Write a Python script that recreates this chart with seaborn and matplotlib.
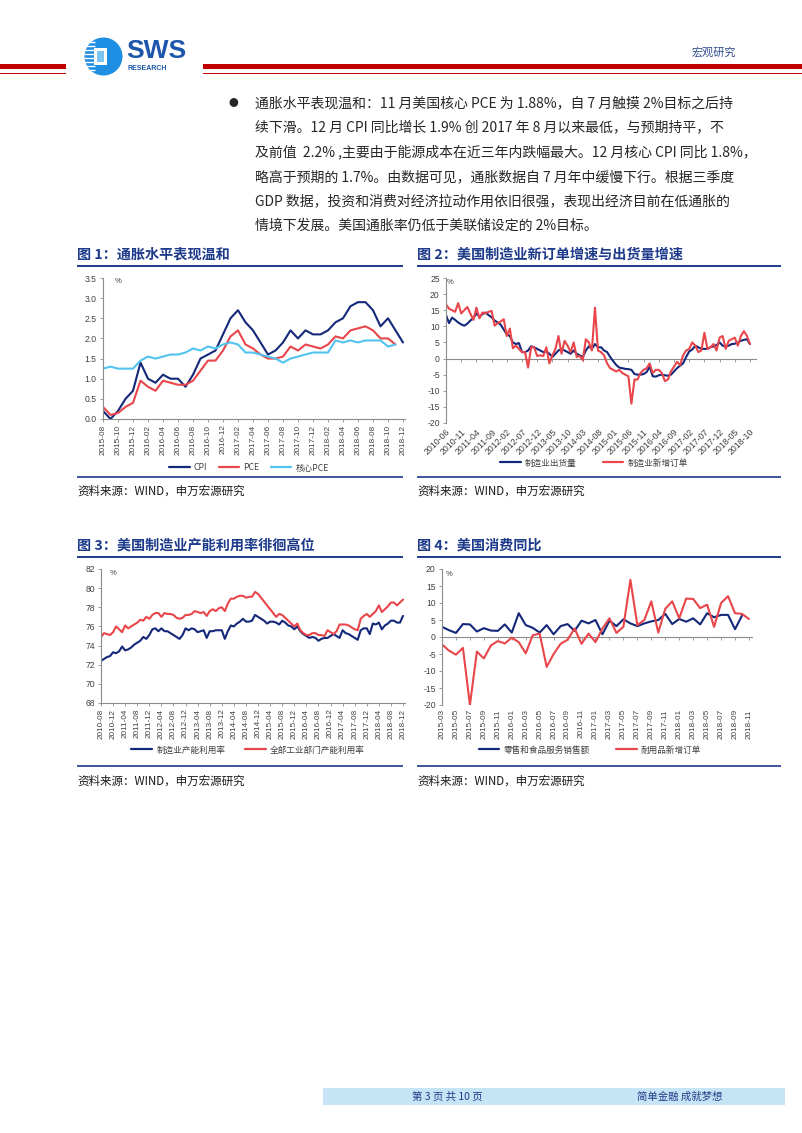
import numpy as np
import pandas as pd
import matplotlib
matplotlib.use("Agg")
import matplotlib.pyplot as plt
import seaborn as sns
from matplotlib.patches import Rectangle, Circle

# ---------------- data ----------------
c1_months = pd.date_range("2015-08-01", "2018-12-01", freq="MS").strftime("%Y-%m").tolist()
c1_cpi = [0.2, 0.0, 0.2, 0.5, 0.7,
          1.4, 1.0, 0.9, 1.1, 1.0, 1.0, 0.8, 1.1, 1.5, 1.6, 1.7, 2.1,
          2.5, 2.7, 2.4, 2.2, 1.9, 1.6, 1.7, 1.9, 2.2, 2.0, 2.2, 2.1,
          2.1, 2.2, 2.4, 2.5, 2.8, 2.9, 2.9, 2.7, 2.3, 2.5, 2.2, 1.9]
c1_pce = [0.3, 0.1, 0.15, 0.3, 0.4,
          0.95, 0.8, 0.7, 0.95, 0.9, 0.85, 0.85, 0.95, 1.2, 1.45, 1.45, 1.7,
          2.05, 2.2, 1.85, 1.75, 1.6, 1.5, 1.5, 1.55, 1.8, 1.7, 1.85, 1.8,
          1.75, 1.85, 2.05, 2.0, 2.2, 2.25, 2.3, 2.2, 2.0, 2.0, 1.85]
c1_core = [1.25, 1.3, 1.25, 1.25, 1.25,
           1.45, 1.55, 1.5, 1.55, 1.6, 1.6, 1.65, 1.75, 1.7, 1.8, 1.75, 1.85,
           1.9, 1.85, 1.65, 1.65, 1.6, 1.55, 1.5, 1.4, 1.5, 1.55, 1.6, 1.65,
           1.65, 1.65, 1.95, 1.9, 1.95, 1.9, 1.95, 1.95, 1.95, 1.8, 1.85]
c1_names = ["CPI", "PCE", "核心PCE"]

c2_months = pd.date_range("2010-06-01", "2018-10-01", freq="MS").strftime("%Y-%m").tolist()
c2_ship = [13.5, 11, 12.7, 12, 11.2, 10.6, 10.2, 10.8, 11.8, 12.5,
           14, 13, 13.8, 14.3, 13.5, 12.8, 11.8, 11.2, 10.5, 9,
           7.5, 7, 5, 4.5, 4.8, 2, 2, 2.5, 3.8, 3.5,
           3, 2.5, 2, 2.2, 1.5, 0.5, 1.5, 2.5, 3, 2.5,
           2, 1.5, 2.5, 1.5, 1, 0.5, 2.5, 3.8, 3, 4.5,
           3.5, 3.5, 2.5, 2, 0.5, -0.8, -2, -2.8, -3, -3.2,
           -3.3, -3.5, -4.8, -5, -5, -4.8, -4.2, -2.5, -5.5, -5.6,
           -5.2, -5, -5.2, -5.3, -5, -4, -3, -2.2, -1.5, 0.5,
           2.2, 2.8, 4, 3.5, 3, 3, 3, 3.5, 3.8, 4.2,
           5, 4, 3.8, 4, 4.5, 4.6, 5, 5.5, 5.8, 6,
           4.5]
c2_orders = [16.8, 15.5, 15, 14.5, 17.2, 14, 15, 16, 14, 12,
             15.8, 12.5, 14.3, 14, 14.5, 14.8, 10.2, 11, 11.5, 12.2,
             7, 9.3, 3.2, 4, 3, 2, 2, -2.8, 3.5, 3.5,
             0.8, 1, 0.8, 3.5, -1.5, 1, 3, 7, 1.5, 5.5,
             4, 2, 5, 0.5, 0.8, -0.5, 6, 5, 2.5, 15.8,
             2.5, 2, 1, -1.5, -3, -3.5, -4, -3.5, -4.5, -5,
             -5.5, -14, -6.5, -6.5, -4.5, -3.5, -3, -1.5, -4.5, -3.5,
             -3.5, -4.5, -7, -6.5, -4, -2.5, -1, -2, 1, 2.5,
             3, 5, 4, 2, 2.5, 8, 3, 3.5, 4.5, 2.5,
             6.5, 7, 3, 5.5, 6, 6.5, 4, 7, 8.5, 7,
             4.5]
c2_names = ["制造业出货量", "制造业新增订单"]

c3_months = pd.date_range("2010-08-01", "2018-12-01", freq="MS").strftime("%Y-%m").tolist()
c3_mfg = [72.4, 72.6, 72.8, 72.9, 73.3,
          73.2, 73.4, 73.9, 73.5, 73.6, 73.8, 74.1, 74.3, 74.5, 74.9, 74.7, 75.1,
          75.7, 75.8, 75.5, 75.8, 75.5, 75.5, 75.3, 75.1, 74.9, 74.7, 75.1, 75.8,
          75.6, 75.8, 75.7, 75.4, 75.5, 75.6, 74.8, 75.5, 75.5, 75.6, 75.6, 75.6,
          74.7, 75.5, 76.1, 76.0, 76.3, 76.5, 76.8, 76.5, 76.5, 76.6, 77.2, 77.0,
          76.8, 76.6, 76.3, 76.5, 76.5, 76.4, 76.2, 76.6, 76.4, 76.1, 76.0, 75.7,
          76.0, 75.5, 75.2, 75.0, 74.8, 74.9, 74.8, 74.5, 74.7, 74.8, 74.8, 75.0,
          75.2, 75.0, 74.8, 75.6, 75.3, 75.2, 75.0, 74.8, 74.6, 75.6, 75.8, 75.8,
          75.2, 76.3, 76.2, 76.4, 75.7, 76.1, 76.3, 76.6, 76.6, 76.4, 76.4, 77.1]
c3_total = [74.9, 75.3, 75.2, 75.1, 75.4,
            76.0, 75.7, 75.4, 76.1, 75.8, 76.0, 76.2, 76.4, 76.7, 76.6, 77.0, 76.8,
            77.2, 77.4, 77.4, 77.0, 77.4, 77.3, 77.3, 77.2, 76.9, 76.8, 76.9, 77.2,
            77.2, 77.3, 77.6, 77.5, 77.4, 77.5, 77.1, 77.6, 77.8, 77.6, 77.9, 78.0,
            77.6, 78.4, 78.9, 78.9, 79.1, 79.2, 79.2, 79.0, 79.1, 79.1, 79.6, 79.4,
            79.0, 78.6, 78.2, 77.8, 77.4, 77.0, 77.3, 77.2, 76.9, 76.6, 76.3, 76.0,
            76.3, 75.6, 75.3, 75.1, 75.1, 75.3, 75.3, 75.1, 75.1, 75.0, 75.6, 75.4,
            75.2, 75.5, 76.2, 76.2, 76.2, 76.1, 75.9, 75.7, 75.6, 76.8, 77.1, 77.3,
            77.0, 77.3, 77.6, 78.2, 77.5, 77.8, 78.1, 78.5, 78.5, 78.2, 78.5, 78.8]
c3_names = ["制造业产能利用率", "全部工业部门产能利用率"]

c4_months = pd.date_range("2015-03-01", "2018-11-01", freq="MS").strftime("%Y-%m").tolist()
c4_retail = [3.0, 2.0, 1.2, 3.8, 3.7, 1.6, 2.6, 1.9, 1.8, 3.7,
             1.3, 7.0, 3.5, 2.7, 1.3, 3.5, 0.8, 3.2, 3.8, 1.8, 4.8, 4.0,
             5.0, 0.8, 4.8, 3.2, 5.2, 4.0, 3.2, 4.0, 4.6, 5.0, 6.8, 3.8,
             5.3, 4.5, 5.5, 3.7, 7.0, 5.8, 6.5, 6.5, 2.3, 6.3]
c4_durable = [-2.2, -4.0, -5.2, -3.2, -20.0, -4.3, -6.3, -2.5, -1.2, -1.9,
              -0.2, -1.5, -4.8, 0.5, 1.0, -8.8, -5.0, -2.0, -0.8, 2.5,
              -2.0, 1.0, -1.5, 2.5, 5.5, 1.2, 3.0, 16.8, 3.5, 5.0,
              10.5, 1.3, 8.3, 10.5, 5.5, 11.3, 11.2, 8.5, 9.5, 3.0,
              10.0, 12.0, 7.0, 6.8, 5.3]
c4_names = ["零售和食品服务销售额", "耐用品新增订单"]

# ---------------- style ----------------
sns.set_theme(style="ticks")
plt.rcParams["font.family"] = ["Noto Sans CJK SC", "DejaVu Sans"]
plt.rcParams["axes.unicode_minus"] = False

NAVY = "#1d3a8a"
GREY = "#8c8c8c"
TXT = "#404040"
LAT = ["Liberation Sans", "DejaVu Sans"]

W, H = 802, 1133
fig = plt.figure(figsize=(W / 100, H / 100), dpi=100)
fig.patch.set_facecolor("white")
bg = fig.add_axes([0, 0, 1, 1], zorder=-5)
bg.set_xlim(0, W)
bg.set_ylim(H, 0)
bg.axis("off")


def px_axes(x0, y_top, x1, y_bot):
    ax = fig.add_axes([x0 / W, 1 - y_bot / H, (x1 - x0) / W, (y_bot - y_top) / H])
    ax.patch.set_alpha(0)
    return ax


def make_long(names, series):
    rows = []
    for name, vals in zip(names, series):
        for i, v in enumerate(vals):
            rows.append((i, v, name))
    return pd.DataFrame(rows, columns=["idx", "val", "series"])


def draw_chart(ax, df, names, colors, xlim, ylim, yticks, ylabels, xticks, xlabels,
               rot, zero, leg_xy, colspace, pct_xy):
    sns.lineplot(data=df, x="idx", y="val", hue="series", hue_order=names,
                 palette=dict(zip(names, colors)), linewidth=1.5, errorbar=None, ax=ax)
    ax.set_xlim(*xlim)
    ax.set_ylim(*ylim)
    ax.set_xlabel("")
    ax.set_ylabel("")
    for s in ["top", "right"]:
        ax.spines[s].set_visible(False)
    ax.spines["left"].set_color(GREY)
    ax.spines["left"].set_linewidth(0.8)
    ax.set_yticks(yticks)
    ax.set_yticklabels(ylabels, family=LAT, fontsize=6.2, color=TXT)
    ax.tick_params(axis="y", left=True, length=2.5, width=0.6, color=GREY, pad=2)
    ax.set_xticks(xticks)
    if rot == 90:
        ax.set_xticklabels(xlabels, rotation=90, family=LAT, fontsize=5.9, color=TXT)
    else:
        ax.set_xticklabels(xlabels, rotation=45, ha="right", va="top",
                           rotation_mode="anchor", family=LAT, fontsize=6.3, color=TXT)
    if zero:
        ax.spines["bottom"].set_visible(False)
        ax.tick_params(axis="x", bottom=True, length=0, pad=3)
        frac = (0 - ylim[0]) / (ylim[1] - ylim[0])
        sec = ax.secondary_xaxis(frac)
        sec.set_alignment("bottom")
        sec.set_ticks(xticks)
        sec.tick_params(axis="x", labelbottom=False, labeltop=False, length=2.5,
                        width=0.6, color=GREY)
        sec.spines["bottom"].set_color(GREY)
        sec.spines["bottom"].set_linewidth(0.8)
    else:
        ax.spines["bottom"].set_color(GREY)
        ax.spines["bottom"].set_linewidth(0.8)
        ax.tick_params(axis="x", bottom=True, length=2.5, width=0.6, color=GREY, pad=1.5)
    ax.text(pct_xy[0], pct_xy[1], "%", transform=ax.transAxes, fontsize=5.5,
            family=LAT, color=TXT, ha="left", va="center")
    sns.move_legend(ax, "center", bbox_to_anchor=(leg_xy[0] / W, 1 - leg_xy[1] / H),
                    bbox_transform=fig.transFigure, ncol=len(names), frameon=False,
                    title=None, fontsize=6.2, handlelength=2.4, handletextpad=0.5,
                    columnspacing=colspace)
    leg = ax.get_legend()
    for t in leg.get_texts():
        t.set_color(TXT)
    for ln in leg.get_lines():
        ln.set_linewidth(1.6)


# chart 1
ax1 = px_axes(103, 278, 103 + 300 * 40.3 / 40, 419)
draw_chart(ax1, make_long(c1_names, [c1_cpi, c1_pce, c1_core]), c1_names,
           ["#14287a", "#e8464a", "#52c3ef"], (0, 40.3), (0, 3.5),
           np.arange(0, 3.51, 0.5), [f"{v:.1f}" for v in np.arange(0, 3.51, 0.5)],
           list(range(0, len(c1_months), 2)), c1_months[::2], 90, False,
           (249, 468), 1.3, (0.04, 0.978))

# chart 2
ax2 = px_axes(446, 278, 446 + 3.04 * 102, 423)
draw_chart(ax2, make_long(c2_names, [c2_ship, c2_orders]), c2_names,
           ["#14287a", "#e8464a"], (0, 102), (-20, 25),
           list(range(-20, 26, 5)), [str(v) for v in range(-20, 26, 5)],
           list(range(0, len(c2_months), 5)), c2_months[::5], 45, True,
           (594, 463), 3.0, (0.004, 0.972))

# chart 3
ax3 = px_axes(101, 569, 101 + 3.02 * 100.5, 703)
draw_chart(ax3, make_long(c3_names, [c3_mfg, c3_total]), c3_names,
           ["#14287a", "#e8464a"], (0, 100.5), (68, 82),
           list(range(68, 83, 2)), [str(v) for v in range(68, 83, 2)],
           list(range(0, len(c3_months), 4)), c3_months[::4], 90, False,
           (248, 750), 2.3, (0.028, 0.97))

# chart 4
ax4 = px_axes(442, 569, 442 + 6.977 * 44.45, 705)
draw_chart(ax4, make_long(c4_names, [c4_retail, c4_durable]), c4_names,
           ["#14287a", "#e8464a"], (0, 44.45), (-20, 20),
           list(range(-20, 21, 5)), [str(v) for v in range(-20, 21, 5)],
           list(range(0, len(c4_months), 2)), c4_months[::2], 90, True,
           (590, 750), 3.0, (0.013, 0.963))

# ---------------- page decorations ----------------
RED = "#c00000"
bg.add_patch(Rectangle((0, 64), 66, 5, color=RED, lw=0))
bg.add_patch(Rectangle((0, 73), 66, 1.3, color=RED, lw=0))
bg.add_patch(Rectangle((203, 64), 599, 5, color=RED, lw=0))
bg.add_patch(Rectangle((203, 73), 599, 1.3, color=RED, lw=0))

# logo
bg.add_patch(Circle((103.5, 56.5), 19, color="#1e8fe2", lw=0))
for yy in range(42, 73, 4):
    bg.plot([84, 95], [yy, yy], color="white", lw=1.0, solid_capstyle="butt")
bg.add_patch(Rectangle((94, 48), 13, 17, color="white", lw=0))
bg.add_patch(Rectangle((97, 51), 7, 11, color="#7cc4f2", lw=0))
bg.text(126, 51.5, "SWS", fontsize=19, weight="bold", color="#1d56ab",
        family=LAT, ha="left", va="center")
bg.text(127, 68, "RESEARCH", fontsize=5, weight="bold", color="#1d56ab",
        family=LAT, ha="left", va="center")
bg.text(714, 52, "宏观研究", fontsize=8, color="#2f4c8f", ha="center", va="center")

# body text
body = [
    "通胀水平表现温和：11 月美国核心 PCE 为 1.88%，自 7 月触摸 2%目标之后持",
    "续下滑。12 月 CPI 同比增长 1.9% 创 2017 年 8 月以来最低，与预期持平，不",
    "及前值  2.2% ,主要由于能源成本在近三年内跌幅最大。12 月核心 CPI 同比 1.8%，",
    "略高于预期的 1.7%。由数据可见，通胀数据自 7 月年中缓慢下行。根据三季度",
    "GDP 数据，投资和消费对经济拉动作用依旧很强，表现出经济目前在低通胀的",
    "情境下发展。美国通胀率仍低于美联储设定的 2%目标。",
]
bg.text(233, 103, "●", fontsize=7, color="#262626", ha="center", va="center")
for i, line in enumerate(body):
    bg.text(255, 103 + i * 24.6, line, fontsize=10, color="#262626", ha="left", va="center")

# chart titles, rules and sources
titles = [
    ("图 1：通胀水平表现温和", 77, 403, 255, 266, 477, 491),
    ("图 2：美国制造业新订单增速与出货量增速", 417, 781, 255, 266, 477, 491),
    ("图 3：美国制造业产能利用率徘徊高位", 77, 403, 546, 557, 766, 781),
    ("图 4：美国消费同比", 417, 781, 546, 557, 766, 781),
]
for txt, x0, x1, ty, ly, by, sy in titles:
    bg.text(x0, ty, txt, fontsize=10.2, weight="bold", color=NAVY, ha="left", va="center")
    bg.plot([x0, x1], [ly, ly], color=NAVY, lw=1.4, solid_capstyle="butt")
    bg.plot([x0, x1], [by, by], color=NAVY, lw=1.2, solid_capstyle="butt")
    bg.text(x0, sy, "资料来源：WIND，申万宏源研究", fontsize=8.3, color="#1a1a1a",
            ha="left", va="center")

# footer
bg.add_patch(Rectangle((323, 1088), 462, 17, color="#c6e4f6", lw=0))
bg.text(447, 1097, "第 3 页 共 10 页", fontsize=7.5, color="#1f3c87", ha="center", va="center")
bg.text(680, 1097, "简单金融 成就梦想", fontsize=7.5, color="#1f3c87", ha="center", va="center")

fig.savefig("out.png", dpi=100, facecolor="white")
